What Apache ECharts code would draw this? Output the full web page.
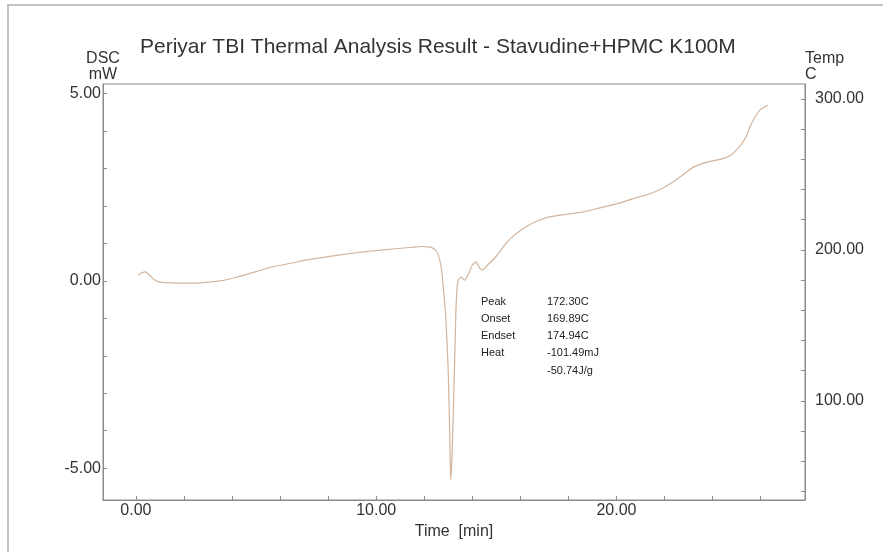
<!DOCTYPE html>
<html>
<head>
<meta charset="utf-8">
<script src="https://cdn.jsdelivr.net/npm/echarts@6/dist/echarts.min.js"></script>
<style>
html,body{margin:0;padding:0;background:#fff;}
#chart{width:883px;height:552px;}
</style>
</head>
<body>
<div id="chart"></div>
<script>
// DSC trace
var timeMin = [0.10, 0.25, 0.40, 0.55, 0.75, 1.0, 1.5, 2.0, 2.7, 3.5, 4.2, 5.0, 5.7, 6.5, 7.0, 8.0, 9.0, 9.8, 10.8, 11.5, 11.9, 12.2, 12.4, 12.55, 12.7, 12.8, 12.9, 13.0, 13.06, 13.1, 13.15, 13.2, 13.26, 13.32, 13.38, 13.45, 13.54, 13.68, 13.85, 14.0, 14.15, 14.3, 14.42, 14.6, 15.0, 15.4, 15.8, 16.25, 16.7, 17.2, 17.9, 18.6, 19.3, 20.0, 20.7, 21.4, 21.9, 22.3, 22.8, 23.2, 23.7, 24.4, 24.8, 25.0, 25.2, 25.4, 25.55, 25.7, 25.95, 26.3];
var dscMw = [0.15, 0.22, 0.24, 0.16, 0.04, -0.03, -0.05, -0.06, -0.05, 0.0, 0.1, 0.25, 0.38, 0.48, 0.55, 0.65, 0.74, 0.8, 0.86, 0.9, 0.92, 0.91, 0.86, 0.75, 0.4, -0.2, -1.0, -2.4, -4.0, -5.3, -4.8, -3.8, -2.3, -0.8, -0.1, 0.05, 0.1, 0.02, 0.2, 0.42, 0.51, 0.35, 0.29, 0.4, 0.66, 1.0, 1.25, 1.45, 1.6, 1.71, 1.78, 1.84, 1.95, 2.06, 2.2, 2.33, 2.47, 2.62, 2.85, 3.04, 3.16, 3.26, 3.38, 3.5, 3.65, 3.85, 4.1, 4.3, 4.55, 4.69];

var timeTicks = [0, 2, 4, 6, 8, 10, 12, 14, 16, 18, 20, 22, 24, 26];
var timeLabels = [0, 10, 20];
var dscTicks = [-5, -4, -3, -2, -1, 0, 1, 2, 3, 4, 5];
var dscLabels = [-5, 0, 5];
var tempTicks = [40, 60, 80, 100, 120, 140, 160, 180, 200, 220, 240, 260, 280, 300];
var tempLabels = [100, 200, 300];

var resultNames = ['Peak', 'Onset', 'Endset', 'Heat', ''];
var resultValues = ['172.30C', '169.89C', '174.94C', '-101.49mJ', '-50.74J/g'];

var points = [];
for (var i = 0; i < timeMin.length; i++) {
	points.push([timeMin[i], dscMw[i]]);
}

var txtColor = '#333';
var frameColor = '#8a8a8a';
var font = 'Liberation Sans, Arial, sans-serif';

function fix2(v) { return v.toFixed(2); }

var resultText = [];
for (var j = 0; j < resultNames.length; j++) {
	resultText.push({
		type: 'text', left: 481, top: 296 + j * 17.3,
		style: {text: resultNames[j], font: '11px ' + font, fill: '#222'}
	});
	resultText.push({
		type: 'text', left: 547, top: 296 + j * 17.3,
		style: {text: resultValues[j], font: '11px ' + font, fill: '#222'}
	});
}

var myChart = echarts.init(document.getElementById('chart'));

myChart.setOption({
	backgroundColor: '#fff',
	animation: false,
	title: {
		text: 'Periyar TBI Thermal Analysis Result - Stavudine+HPMC K100M',
		left: 135, top: 32,
		textStyle: {fontFamily: font, fontSize: 21, fontWeight: 'normal', color: txtColor}
	},
	grid: {left: 103, right: 78, top: 84, bottom: 52, show: true, borderColor: frameColor, borderWidth: 1, outerBoundsMode: 'none'},
	graphic: [{
		type: 'rect', silent: true, z: -10,
		shape: {x: 8, y: 5, width: 890, height: 560},
		style: {fill: 'none', stroke: '#c4c4c4', lineWidth: 2}
	}].concat(resultText),
	xAxis: {
		type: 'value', min: -1.37, max: 27.85,
		name: 'Time  [min]', nameLocation: 'middle', nameGap: 19,
		nameTextStyle: {fontFamily: font, fontSize: 16, color: txtColor},
		axisLine: {onZero: false, lineStyle: {color: frameColor}},
		axisTick: {show: true, inside: true, length: 4, customValues: timeTicks, lineStyle: {color: frameColor}},
		axisLabel: {customValues: timeLabels, formatter: fix2, margin: 3, fontFamily: font, fontSize: 16, color: txtColor},
		splitLine: {show: false}
	},
	yAxis: [{
		type: 'value', min: -5.85, max: 5.26, position: 'left',
		name: 'DSC\nmW', nameLocation: 'end', nameGap: 1,
		nameTextStyle: {fontFamily: font, fontSize: 16, color: txtColor, align: 'center', lineHeight: 16},
		axisLine: {show: true, onZero: false, lineStyle: {color: frameColor}},
		axisTick: {show: true, inside: true, length: 4, customValues: dscTicks, lineStyle: {color: frameColor}},
		axisLabel: {customValues: dscLabels, formatter: fix2, margin: 2, fontFamily: font, fontSize: 16, color: txtColor},
		splitLine: {show: false}
	}, {
		type: 'value', min: 34.4, max: 309.9, position: 'right',
		name: 'Temp\nC', nameLocation: 'end', nameGap: 1,
		nameTextStyle: {fontFamily: font, fontSize: 16, color: txtColor, align: 'left', lineHeight: 16},
		axisLine: {show: true, onZero: false, lineStyle: {color: frameColor}},
		axisTick: {show: true, inside: true, length: 4, customValues: tempTicks, lineStyle: {color: frameColor}},
		axisLabel: {customValues: tempLabels, formatter: fix2, margin: 10, fontFamily: font, fontSize: 16, color: txtColor},
		splitLine: {show: false}
	}],
	series: [{
		name: 'DSC',
		type: 'line',
		yAxisIndex: 0,
		data: points,
		showSymbol: false,
		smooth: 0.2,
		lineStyle: {color: '#d2b49c', width: 1.2}
	}]
});
</script>
</body>
</html>
